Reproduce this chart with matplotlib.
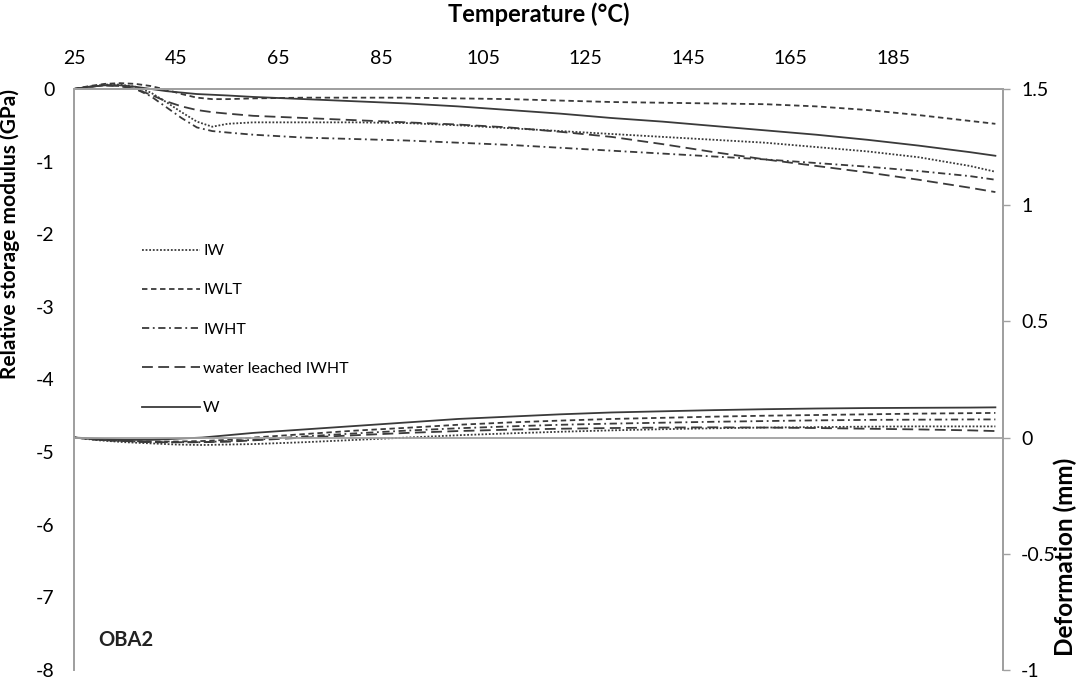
import matplotlib
matplotlib.use("Agg")
import matplotlib.pyplot as plt

plt.rcParams['font.family'] = ['Lato', 'DejaVu Sans']
plt.rcParams['axes.unicode_minus'] = False

# storage modulus (left axis, GPa)
temp_top = [25, 28, 31, 34, 37, 40, 43, 46, 49, 52, 55, 60, 70, 80, 90, 100,
            110, 120, 130, 140, 150, 160, 170, 180, 190, 200, 205]
mod_IW = [0, 0.03, 0.06, 0.06, 0.03, -0.05, -0.18, -0.32, -0.45, -0.52, -0.48,
          -0.46, -0.46, -0.46, -0.47, -0.5, -0.54, -0.58, -0.62, -0.66, -0.7,
          -0.74, -0.8, -0.86, -0.94, -1.06, -1.14]
mod_IWLT = [0, 0.04, 0.07, 0.08, 0.07, 0.04, -0.01, -0.07, -0.12, -0.14, -0.14,
            -0.13, -0.12, -0.12, -0.12, -0.13, -0.14, -0.16, -0.18, -0.19, -0.2,
            -0.21, -0.24, -0.29, -0.36, -0.44, -0.48]
mod_IWHT = [0, 0.03, 0.05, 0.04, 0.0, -0.1, -0.25, -0.4, -0.53, -0.58, -0.6,
            -0.63, -0.67, -0.69, -0.71, -0.74, -0.77, -0.81, -0.85, -0.89, -0.93,
            -0.97, -1.02, -1.07, -1.13, -1.2, -1.25]
mod_WL = [0, 0.03, 0.05, 0.04, 0.0, -0.08, -0.17, -0.24, -0.29, -0.32, -0.34,
          -0.37, -0.4, -0.43, -0.46, -0.49, -0.53, -0.59, -0.66, -0.76, -0.87,
          -0.97, -1.06, -1.15, -1.25, -1.36, -1.42]
mod_W = [0, 0.03, 0.05, 0.05, 0.03, 0.0, -0.03, -0.05, -0.07, -0.08, -0.09,
         -0.11, -0.14, -0.17, -0.2, -0.24, -0.29, -0.34, -0.4, -0.45, -0.51,
         -0.57, -0.63, -0.7, -0.78, -0.87, -0.92]

# deformation (right axis, mm)
temp_bot = [25, 30, 35, 40, 45, 50, 55, 60, 70, 80, 90, 100, 110, 120, 130,
            140, 150, 160, 170, 180, 190, 200, 205]
def_W = [0, -0.005, -0.01, -0.01, -0.005, 0.0, 0.01, 0.02, 0.035, 0.05, 0.065,
         0.08, 0.09, 0.1, 0.108, 0.113, 0.118, 0.122, 0.125, 0.127, 0.128,
         0.129, 0.13]
def_IWLT = [0, -0.01, -0.015, -0.017, -0.017, -0.015, -0.01, 0.0, 0.015, 0.03,
            0.042, 0.055, 0.065, 0.073, 0.08, 0.085, 0.09, 0.094, 0.097, 0.1,
            0.103, 0.105, 0.106]
def_IWHT = [0, -0.01, -0.015, -0.02, -0.02, -0.02, -0.015, -0.01, 0.005, 0.018,
            0.03, 0.04, 0.048, 0.055, 0.06, 0.064, 0.068, 0.071, 0.074, 0.076,
            0.077, 0.078, 0.078]
def_IW = [0, -0.012, -0.02, -0.025, -0.03, -0.032, -0.03, -0.028, -0.02, -0.01,
          0.0, 0.01, 0.018, 0.025, 0.031, 0.036, 0.04, 0.043, 0.045, 0.047,
          0.048, 0.048, 0.048]
def_WL = [0, -0.01, -0.015, -0.02, -0.02, -0.02, -0.018, -0.012, 0.0, 0.01,
          0.02, 0.028, 0.034, 0.038, 0.041, 0.043, 0.044, 0.043, 0.041, 0.038,
          0.035, 0.031, 0.028]

labels = ["IW", "IWLT", "IWHT", "water leached IWHT", "W"]
styles = [(0, (1, 1)), (0, (3, 2)), (0, (4, 2, 1, 2)), (0, (6, 3)), "-"]
top_series = [mod_IW, mod_IWLT, mod_IWHT, mod_WL, mod_W]
bot_series = [def_IW, def_IWLT, def_IWHT, def_WL, def_W]
x_ticks = [25, 45, 65, 85, 105, 125, 145, 165, 185]

line_col = "#3a3a3a"
axis_col = "#a0a0a0"

fig = plt.figure(figsize=(10.81, 6.79), dpi=100)
ax = fig.add_axes([0.0685, 0.0133, 0.8594, 0.8557])
ax2 = ax.twinx()

handles = []
for y, ls, lab in zip(top_series, styles, labels):
    h, = ax.plot(temp_top, y, color=line_col, lw=1.3, ls=ls, label=lab,
                 clip_on=False)
    handles.append(h)
for y, ls in zip(bot_series, styles):
    ax2.plot(temp_bot, y, color=line_col, lw=1.3, ls=ls)

ax.set_xlim(25, 206.5)
ax.set_ylim(-8, 0)
ax2.set_ylim(-1, 1.5)

ax.xaxis.tick_top()
ax.xaxis.set_label_position("top")
ax.set_xticks(x_ticks)
ax.tick_params(axis="x", length=0, pad=16, labelsize=14)
ax.set_xlabel("Temperature (°C)", fontsize=17, fontweight="bold", labelpad=20)

ax.set_yticks(range(-8, 1))
ax.tick_params(axis="y", length=0, pad=14, labelsize=14)
ax.set_ylabel("Relative storage modulus (GPa)", fontsize=15, fontweight="bold")
ax.yaxis.set_label_coords(-0.058, 0.75)

ax2.set_yticks([-1, -0.5, 0, 0.5, 1, 1.5])
ax2.set_yticklabels(["-1", "-0.5", "0", "0.5", "1", "1.5"])
ax2.tick_params(axis="y", length=5, width=1, color=axis_col, pad=8, labelsize=14)
ax2.set_ylabel("Deformation (mm)", fontsize=17.5, fontweight="bold")
ax2.yaxis.set_label_coords(1.054, 0.195)
ax2.axhline(0, color=axis_col, lw=1.3)

for a in (ax, ax2):
    a.spines["bottom"].set_visible(False)
    for s in ("top", "left", "right"):
        a.spines[s].set_color(axis_col)
        a.spines[s].set_linewidth(1.3)

ax.text(0.026, 0.042, "OBA2", transform=ax.transAxes, fontsize=14.5,
        fontweight="bold", color="#222222")

ax.legend(handles=handles, loc="upper left", bbox_to_anchor=(0.058, 0.758),
          frameon=False, fontsize=11.5, handlelength=3.6, labelspacing=1.57,
          handletextpad=0.2)

fig.savefig("out.png", dpi=100)
